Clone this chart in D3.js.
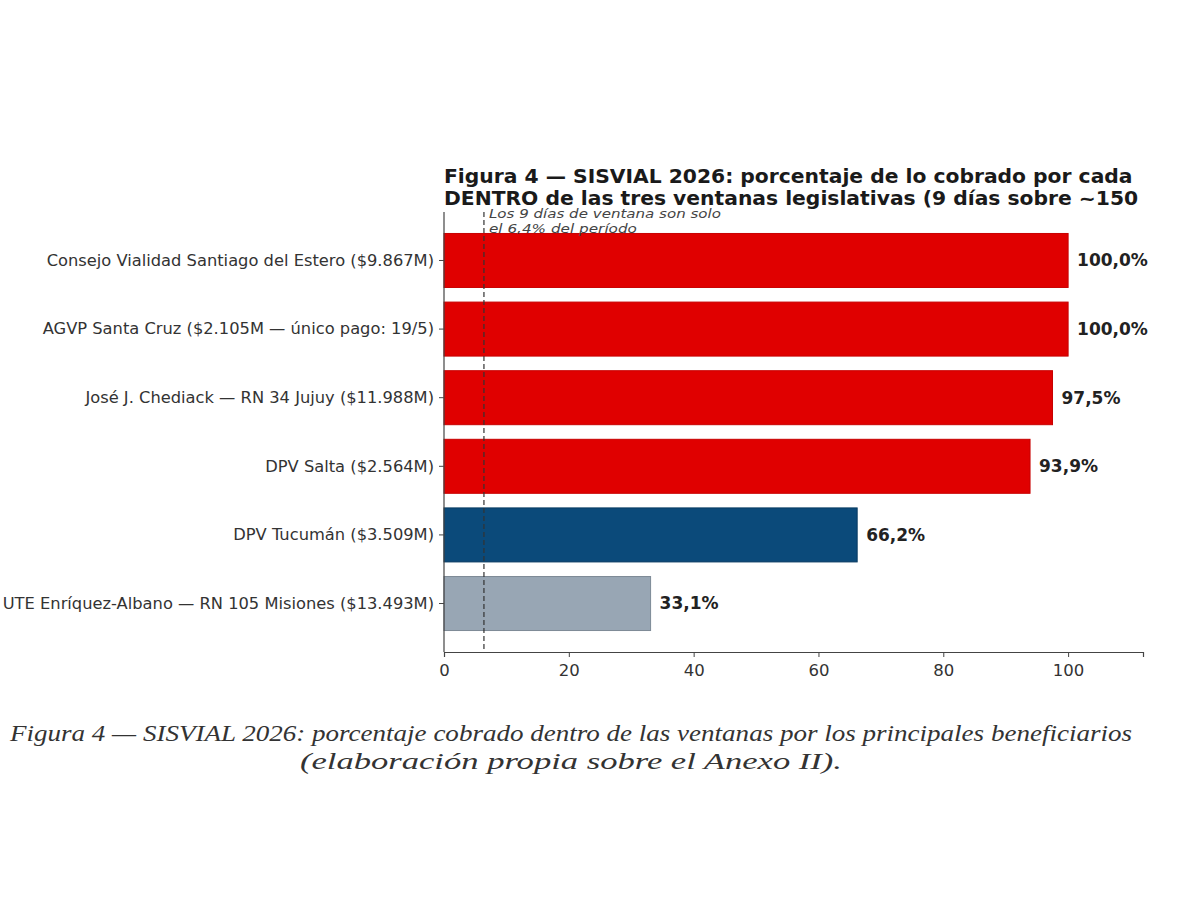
<!DOCTYPE html>
<html>
<head>
<meta charset="utf-8">
<script src="https://d3js.org/d3.v7.min.js"></script>
<style>
  body { margin: 0; background: #fff; }
</style>
</head>
<body>
<script>
// Data
var categories = [
    "Consejo Vialidad Santiago del Estero ($9.867M)",
    "AGVP Santa Cruz ($2.105M — único pago: 19/5)",
    "José J. Chediack — RN 34 Jujuy ($11.988M)",
    "DPV Salta ($2.564M)",
    "DPV Tucumán ($3.509M)",
    "UTE Enríquez-Albano — RN 105 Misiones ($13.493M)"
];
var pctValues = [100.0, 100.0, 97.5, 93.9, 66.2, 33.1];
var barGroup = ["alto", "alto", "alto", "alto", "medio", "bajo"];
var xTicks = [0, 20, 40, 60, 80, 100];
var windowShare = 6.4;
var titleLines = [
    "Figura 4 — SISVIAL 2026: porcentaje de lo cobrado por cada",
    "DENTRO de las tres ventanas legislativas (9 días sobre ~150"
];
var noteLines = ["Los 9 días de ventana son solo", "el 6,4% del período"];
var captionLines = [
    "Figura 4 — SISVIAL 2026: porcentaje cobrado dentro de las ventanas por los principales beneficiarios",
    "(elaboración propia sobre el Anexo II)."
];

var colors = { alto: "#e00000", medio: "#0b4a7a", bajo: "#98a6b4" };
var strokes = { alto: "#c80000", medio: "#083a60", bajo: "#7d8a96" };

var svg = d3.select("body").append("svg")
    .attr("width", 1200)
    .attr("height", 900);

// plot area
var plotLeft = 444, plotTop = 212, plotBottom = 652, plotRight = 1143;

var x = d3.scaleLinear()
    .domain([0, 112])
    .range([plotLeft, plotRight]);

var y = d3.scaleBand()
    .domain(categories)
    .range([plotTop, plotBottom])
    .paddingInner(0.213)
    .paddingOuter(0.313);

// title
svg.append("g").selectAll("text")
    .data(titleLines)
    .enter().append("text")
    .attr("x", plotLeft)
    .attr("y", function(d, i) { return 183 + i * 22; })
    .attr("font-family", "DejaVu Sans")
    .attr("font-weight", "bold")
    .attr("font-size", 20.3)
    .attr("fill", "#1a1a1a")
    .text(function(d) { return d; });

// bars
svg.append("g").selectAll("rect")
    .data(pctValues)
    .enter().append("rect")
    .attr("x", x(0))
    .attr("y", function(d, i) { return y(categories[i]); })
    .attr("width", function(d) { return x(d) - x(0); })
    .attr("height", y.bandwidth())
    .attr("fill", function(d, i) { return colors[barGroup[i]]; })
    .attr("stroke", function(d, i) { return strokes[barGroup[i]]; })
    .attr("stroke-width", 1);

// value labels
svg.append("g").selectAll("text")
    .data(pctValues)
    .enter().append("text")
    .attr("x", function(d) { return x(d) + 9; })
    .attr("y", function(d, i) { return y(categories[i]) + y.bandwidth() / 2; })
    .attr("dy", "0.35em")
    .attr("font-family", "DejaVu Sans")
    .attr("font-weight", "bold")
    .attr("font-size", 17)
    .attr("fill", "#222")
    .text(function(d) { return d.toFixed(1).replace(".", ",") + "%"; });

// dashed reference line
svg.append("line")
    .attr("x1", x(windowShare)).attr("x2", x(windowShare))
    .attr("y1", plotTop).attr("y2", plotBottom)
    .attr("stroke", "#333")
    .attr("stroke-width", 1.2)
    .attr("stroke-dasharray", "5,3");

svg.append("g").selectAll("text")
    .data(noteLines)
    .enter().append("text")
    .attr("x", x(windowShare) + 5)
    .attr("y", function(d, i) { return plotTop + 6 + i * 15; })
    .attr("font-family", "DejaVu Sans")
    .attr("font-style", "italic")
    .attr("font-size", 12.5)
    .attr("fill", "#444")
    .attr("textLength", function(d, i) { return i === 0 ? 232 : 148; })
    .attr("lengthAdjust", "spacingAndGlyphs")
    .text(function(d) { return d; });

// axes
var xAxis = svg.append("g")
    .attr("transform", "translate(0," + plotBottom + ")")
    .call(d3.axisBottom(x).tickValues(xTicks).tickSize(5).tickPadding(7));
xAxis.select(".domain").attr("stroke", "#444").attr("stroke-width", 1.2);
xAxis.selectAll(".tick line").attr("stroke", "#444");
xAxis.selectAll("text")
    .attr("font-family", "DejaVu Sans")
    .attr("font-size", 16.5)
    .attr("fill", "#333");

var yAxis = svg.append("g")
    .attr("transform", "translate(" + plotLeft + ",0)")
    .call(d3.axisLeft(y).tickSize(5).tickPadding(5).tickSizeOuter(0));
yAxis.select(".domain")
    .attr("d", "M0," + plotTop + "V" + plotBottom)
    .attr("stroke", "#444").attr("stroke-width", 1.2);
yAxis.selectAll(".tick line").attr("stroke", "#444");
yAxis.selectAll("text")
    .attr("font-family", "DejaVu Sans")
    .attr("font-size", 16.3)
    .attr("fill", "#333");

// caption
svg.append("g").selectAll("text")
    .data(captionLines)
    .enter().append("text")
    .attr("x", 571)
    .attr("y", function(d, i) { return 741 + i * 28; })
    .attr("text-anchor", "middle")
    .style("font-family", "'Liberation Serif', 'Times New Roman', Times, serif")
    .attr("font-style", "italic")
    .attr("font-size", 24)
    .attr("fill", "#333")
    .attr("textLength", function(d, i) { return i === 0 ? 1122 : 542; })
    .attr("lengthAdjust", "spacingAndGlyphs")
    .text(function(d) { return d; });
</script>
</body>
</html>
